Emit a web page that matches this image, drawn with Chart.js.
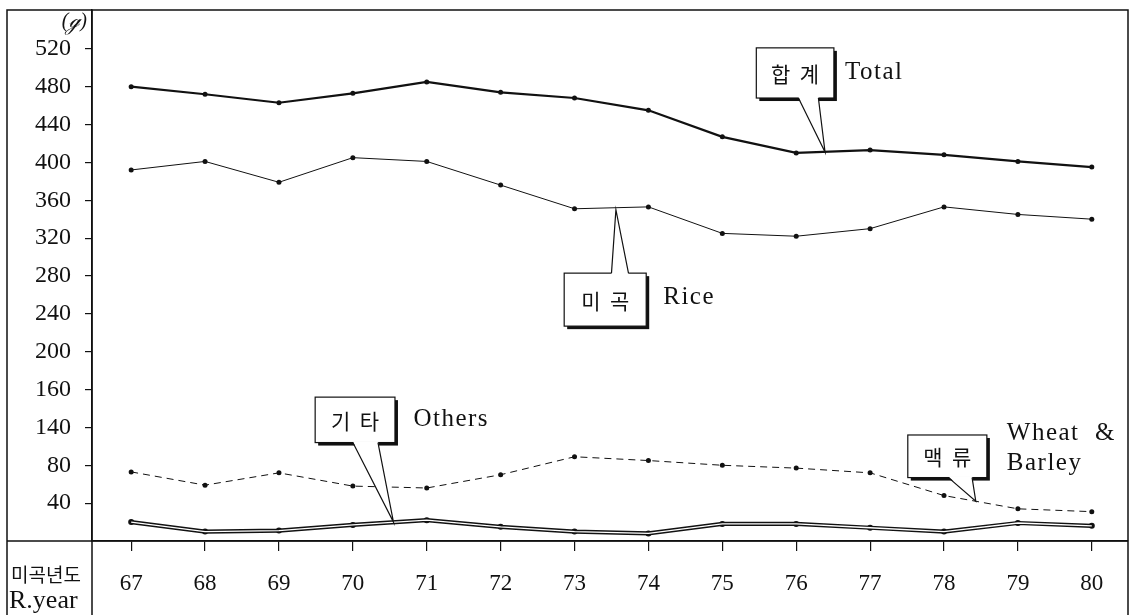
<!DOCTYPE html>
<html>
<head>
<meta charset="utf-8">
<script src="https://cdn.jsdelivr.net/npm/chart.js@4"></script>
<style>
  html, body { margin: 0; padding: 0; background: #fff; }
  canvas { display: block; }
</style>
</head>
<body>
<canvas id="chart" width="1133" height="615"></canvas>
<script>
// rice years 1967..1980
const years = [67, 68, 69, 70, 71, 72, 73, 74, 75, 76, 77, 78, 79, 80];
const totalValues = [480, 472, 463, 473, 485, 474, 468, 455, 427, 410, 413, 408, 401, 395];
const riceValues = [392, 401, 379, 405, 401, 376, 351, 353, 325, 322, 330, 353, 345, 340];
const wheatBarleyValues = [73, 59, 72, 58, 56, 70, 89, 85, 80, 77, 72, 48, 34, 31];
const othersValues = [20, 10, 11, 17, 22, 15, 10, 8, 18, 18, 14, 10, 19, 16];

const yTickValues = [40, 80, 120, 160, 200, 240, 280, 320, 360, 400, 440, 480, 520];
const yTickLabels = ['40', '80', '140', '160', '200', '240', '280', '320', '360', '400', '440', '480', '520'];

const toPoints = vals => vals.map((v, i) => ({ x: years[i], y: v }));

const SERIF = '"Liberation Serif", "DejaVu Serif", serif';
const KR = '"Noto Sans CJK KR", sans-serif';
const INK = '#111';

// callouts: box / pointer in data coords
const callouts = [
    { kr: '합  계', en: ['Total'], box: [75.46, 521, 76.51, 468], side: 'bottom', base: [76.03, 76.30], tip: [76.39, 411], enPos: [76.66, 495] },
    { kr: '미  곡', en: ['Rice'], box: [72.86, 283, 73.97, 227], side: 'top', base: [73.50, 73.73], tip: [73.56, 350], enPos: [74.20, 257] },
    { kr: '기  타', en: ['Others'], box: [69.49, 152, 70.57, 104], side: 'bottom', base: [70.0, 70.34], tip: [70.55, 20], enPos: [70.82, 128] },
    { kr: '맥  류', en: ['Wheat  &', 'Barley'], box: [77.51, 112, 78.58, 67], side: 'bottom', base: [78.06, 78.38], tip: [78.43, 42], enPos: [78.85, 114] }
];

const decorPlugin = {
    id: 'decor',
    afterDraw(chart) {
        const ctx = chart.ctx;
        const ca = chart.chartArea;
        const xs = chart.scales.x, ys = chart.scales.y;
        ctx.save();
        ctx.strokeStyle = INK;
        ctx.lineWidth = 1.5;
        // outer frame
        ctx.beginPath();
        ctx.moveTo(7, 615); ctx.lineTo(7, 10); ctx.lineTo(1128, 10); ctx.lineTo(1128, 615);
        // axis line across whole frame, y axis line down to bottom
        ctx.moveTo(7, ca.bottom); ctx.lineTo(1128, ca.bottom);
        ctx.moveTo(ca.left, 10); ctx.lineTo(ca.left, 615);
        ctx.stroke();

        ctx.fillStyle = INK;
        ctx.font = 'italic 20px ' + SERIF;
        ctx.textAlign = 'right';
        ctx.textBaseline = 'middle';
        ctx.fillText('(ℊ)', 87, 22);

        ctx.textAlign = 'left';
        ctx.font = '19px ' + KR;
        ctx.fillText('미곡년도', 11, 575);
        ctx.font = '26px ' + SERIF;
        ctx.fillText('R.year', 9, 601);

        callouts.forEach(c => {
            const L = xs.getPixelForValue(c.box[0]), R = xs.getPixelForValue(c.box[2]);
            const T = ys.getPixelForValue(c.box[1]), B = ys.getPixelForValue(c.box[3]);
            // shadow
            ctx.fillStyle = INK;
            ctx.fillRect(L + 3, T + 3, R - L, B - T);
            ctx.fillStyle = '#fff';
            ctx.fillRect(L, T, R - L, B - T);
            ctx.lineWidth = 1.2;
            ctx.strokeRect(L, T, R - L, B - T);
            // pointer
            const edge = c.side === 'bottom' ? B : T;
            const b1 = xs.getPixelForValue(c.base[0]), b2 = xs.getPixelForValue(c.base[1]);
            const tx = xs.getPixelForValue(c.tip[0]), ty = ys.getPixelForValue(c.tip[1]);
            const inset = c.side === 'bottom' ? -1 : 1;
            ctx.beginPath();
            ctx.moveTo(b1, edge + inset);
            ctx.lineTo(tx, ty);
            ctx.lineTo(b2, edge + inset);
            ctx.closePath();
            ctx.fillStyle = '#fff';
            ctx.fill();
            ctx.beginPath();
            ctx.moveTo(b1, edge); ctx.lineTo(tx, ty); ctx.lineTo(b2, edge);
            ctx.stroke();
            // texts
            ctx.fillStyle = INK;
            ctx.textAlign = 'center';
            ctx.font = '21px ' + KR;
            ctx.fillText(c.kr, (L + R) / 2, (T + B) / 2 + 1);
            ctx.textAlign = 'left';
            ctx.font = '25px ' + SERIF;
            ctx.letterSpacing = '1.5px';
            const ex = xs.getPixelForValue(c.enPos[0]), ey = ys.getPixelForValue(c.enPos[1]);
            c.en.forEach((line, i) => ctx.fillText(line, ex, ey + i * 30));
            ctx.letterSpacing = '0px';
        });
        ctx.restore();
    }
};

const lineBase = {
    borderColor: INK,
    backgroundColor: INK,
    pointBackgroundColor: INK,
    pointBorderColor: INK,
    pointRadius: 2.5,
    pointBorderWidth: 0,
    tension: 0,
    fill: false
};

// drop the half-label padding so the plot area meets the frame
const noPad = s => { s.paddingTop = 0; s.paddingBottom = 0; s.paddingLeft = 0; s.paddingRight = 0; };

new Chart(document.getElementById('chart'), {
    type: 'line',
    data: {
        datasets: [
            { ...lineBase, label: 'Total', data: toPoints(totalValues), borderWidth: 2.2, order: 1 },
            { ...lineBase, label: 'Rice', data: toPoints(riceValues), borderWidth: 1, order: 1 },
            { ...lineBase, label: 'Wheat & Barley', data: toPoints(wheatBarleyValues), borderWidth: 1, borderDash: [7, 5], order: 1 },
            { ...lineBase, label: 'Others', data: toPoints(othersValues), borderWidth: 4.2, pointRadius: 3, order: 2 },
            { ...lineBase, label: 'Others inner', data: toPoints(othersValues), borderColor: '#fff', borderWidth: 1.3, pointRadius: 0, order: 0 }
        ]
    },
    options: {
        responsive: false,
        animation: false,
        layout: { padding: { left: 7, top: 10, right: 5, bottom: 0 } },
        plugins: { legend: { display: false }, tooltip: { enabled: false } },
        scales: {
            x: {
                type: 'linear',
                min: 66.47,
                max: 80.49,
                afterBuildTicks: s => { s.ticks = years.map(v => ({ value: v })); },
                afterFit: s => { s.height = 74; noPad(s); },
                ticks: { color: INK, font: { family: SERIF, size: 23 }, padding: 19, callback: v => String(v), maxRotation: 0 },
                grid: { drawOnChartArea: false, drawTicks: true, tickLength: 10, color: INK, lineWidth: 1.2 },
                border: { display: true, color: INK, width: 1.5 }
            },
            y: {
                type: 'linear',
                min: 0,
                max: 561,
                afterBuildTicks: s => { s.ticks = yTickValues.map(v => ({ value: v })); },
                afterFit: s => { s.width = 85; noPad(s); },
                ticks: {
                    color: INK,
                    font: { family: SERIF, size: 24 },
                    padding: 14,
                    callback: v => yTickLabels[yTickValues.indexOf(v)]
                },
                grid: { drawOnChartArea: false, drawTicks: true, tickLength: 7, color: INK, lineWidth: 1.2 },
                border: { display: true, color: INK, width: 1.5 }
            }
        }
    },
    plugins: [decorPlugin]
});
</script>
</body>
</html>
